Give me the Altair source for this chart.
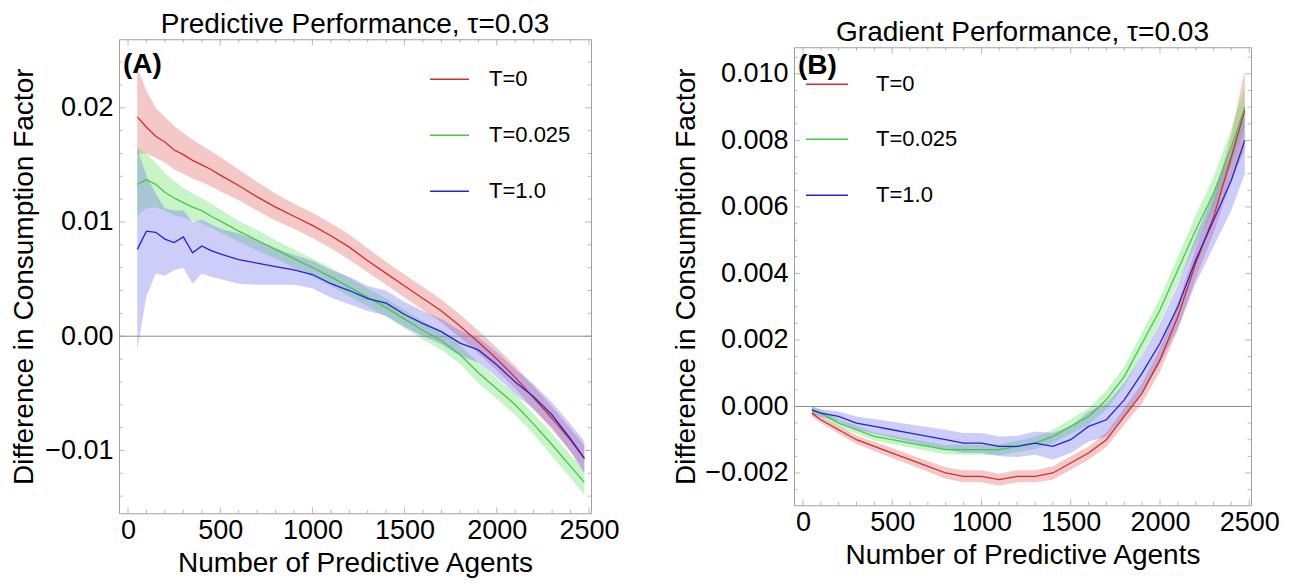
import altair as alt
import pandas as pd

FONT = "Liberation Sans"
SERIES = ["T=0", "T=0.025", "T=1.0"]
LINE_COLORS = ["#d42c2c", "#46c846", "#2424d2"]
BAND_COLORS = ["#de4848", "#48de48", "#5858ee"]

X_MAJOR = [0, 500, 1000, 1500, 2000, 2500]

# ---------------- Panel A: Predictive Performance ----------------
xa = [50, 100, 150, 200, 250, 300, 350, 400, 450, 500, 600, 700, 800, 900, 1000,
      1100, 1200, 1300, 1400, 1500, 1600, 1700, 1800, 1900, 2000, 2100, 2200, 2300, 2400, 2475]

red_a = [0.0192, 0.0183, 0.0175, 0.0170, 0.0163, 0.0159, 0.0154, 0.0150, 0.0146, 0.0141,
         0.0132, 0.0122, 0.0113, 0.0105, 0.0097, 0.0088, 0.0078, 0.0066, 0.0055, 0.0044,
         0.0033, 0.0022, 0.0009, -0.0005, -0.0020, -0.0036, -0.0054, -0.0072, -0.0091, -0.0107]
red_a_hi = [0.0235, 0.0215, 0.0200, 0.0192, 0.0184, 0.0178, 0.0172, 0.0167, 0.0162, 0.0157,
            0.0146, 0.0135, 0.0125, 0.0116, 0.0108, 0.0099, 0.0089, 0.0077, 0.0065, 0.0054,
            0.0043, 0.0032, 0.0019, 0.0005, -0.0010, -0.0026, -0.0044, -0.0062, -0.0081, -0.0096]
red_a_lo = [0.0160, 0.0160, 0.0156, 0.0152, 0.0146, 0.0142, 0.0138, 0.0135, 0.0131, 0.0127,
            0.0119, 0.0110, 0.0101, 0.0094, 0.0086, 0.0077, 0.0067, 0.0056, 0.0045, 0.0034,
            0.0023, 0.0012, -0.0001, -0.0015, -0.0030, -0.0046, -0.0064, -0.0082, -0.0101, -0.0118]

green_a = [0.0133, 0.0137, 0.0133, 0.0126, 0.0121, 0.0117, 0.0113, 0.0110, 0.0105, 0.0101,
           0.0092, 0.0084, 0.0076, 0.0068, 0.0060, 0.0052, 0.0043, 0.0034, 0.0025, 0.0015,
           0.0005, -0.0004, -0.0016, -0.0032, -0.0046, -0.0060, -0.0077, -0.0095, -0.0114, -0.0128]
green_a_hi = [0.0165, 0.0160, 0.0152, 0.0143, 0.0136, 0.0130, 0.0125, 0.0121, 0.0116, 0.0111,
              0.0101, 0.0093, 0.0084, 0.0076, 0.0068, 0.0060, 0.0051, 0.0042, 0.0033, 0.0023,
              0.0013, 0.0004, -0.0008, -0.0023, -0.0037, -0.0051, -0.0068, -0.0085, -0.0104, -0.0117]
green_a_lo = [0.0105, 0.0112, 0.0113, 0.0110, 0.0106, 0.0104, 0.0101, 0.0099, 0.0095, 0.0091,
              0.0083, 0.0075, 0.0068, 0.0060, 0.0052, 0.0044, 0.0035, 0.0026, 0.0017, 0.0007,
              -0.0003, -0.0012, -0.0024, -0.0041, -0.0055, -0.0069, -0.0086, -0.0105, -0.0124, -0.0139]

blue_a = [0.0076, 0.0092, 0.0091, 0.0085, 0.0082, 0.0087, 0.0073, 0.0079, 0.0075, 0.0072,
          0.0067, 0.0064, 0.0061, 0.0058, 0.0054, 0.0046, 0.0040, 0.0033, 0.0029, 0.0019,
          0.0011, 0.0004, -0.0006, -0.0012, -0.0025, -0.0040, -0.0053, -0.0069, -0.0090, -0.0107]
blue_a_hi = [0.0165, 0.0140, 0.0125, 0.0112, 0.0110, 0.0110, 0.0100, 0.0102, 0.0098, 0.0094,
             0.0090, 0.0084, 0.0077, 0.0071, 0.0066, 0.0058, 0.0052, 0.0044, 0.0040, 0.0030,
             0.0022, 0.0015, 0.0005, -0.0001, -0.0014, -0.0029, -0.0042, -0.0058, -0.0077, -0.0092]
blue_a_lo = [-0.0012, 0.0035, 0.0055, 0.0053, 0.0058, 0.0060, 0.0046, 0.0055, 0.0052, 0.0050,
             0.0046, 0.0045, 0.0045, 0.0045, 0.0042, 0.0034, 0.0028, 0.0022, 0.0018, 0.0008,
             0.0000, -0.0007, -0.0017, -0.0023, -0.0036, -0.0051, -0.0064, -0.0080, -0.0101, -0.0120]

# ---------------- Panel B: Gradient Performance ----------------
xb = [50, 100, 200, 300, 400, 500, 600, 700, 800, 900, 1000, 1100, 1200, 1300, 1400,
      1500, 1600, 1700, 1800, 1900, 2000, 2100, 2200, 2300, 2400, 2475]

red_b = [-0.0002, -0.0004, -0.0007, -0.0010, -0.0012, -0.0014, -0.0016, -0.0018, -0.0020, -0.0021,
         -0.0021, -0.0022, -0.0021, -0.0021, -0.0020, -0.0017, -0.0014, -0.0010, -0.0003, 0.0004,
         0.0014, 0.0027, 0.0043, 0.0057, 0.0075, 0.0089]
red_b_err = [0.0001, 0.0001, 0.00012, 0.00013, 0.00014, 0.00015, 0.00015, 0.00016, 0.00017, 0.00018,
             0.00018, 0.00018, 0.00018, 0.00018, 0.0002, 0.0002, 0.0002, 0.00022, 0.00025, 0.0003,
             0.00035, 0.0004, 0.00045, 0.0005, 0.0007, 0.0012]

green_b = [-0.0001, -0.0002, -0.0005, -0.0007, -0.0009, -0.0010, -0.0011, -0.0012, -0.0013, -0.0013,
           -0.0013, -0.0013, -0.0012, -0.0011, -0.0009, -0.0006, -0.0003, 0.0002, 0.0009, 0.0019,
           0.0029, 0.0041, 0.0053, 0.0064, 0.0078, 0.0090]
green_b_err = [0.0001, 0.0001, 0.00011, 0.00012, 0.00012, 0.00013, 0.00013, 0.00014, 0.00014, 0.00015,
               0.00015, 0.00016, 0.00017, 0.00018, 0.0002, 0.00022, 0.00025, 0.00028, 0.0003, 0.00033,
               0.00036, 0.0004, 0.00045, 0.0005, 0.00055, 0.0006]

blue_b = [-0.0001, -0.0002, -0.0003, -0.0005, -0.0006, -0.0007, -0.0008, -0.0009, -0.0010, -0.0011,
          -0.0011, -0.0012, -0.0012, -0.0011, -0.0012, -0.0010, -0.0006, -0.0004, 0.0002, 0.0010,
          0.0019, 0.0030, 0.0044, 0.0056, 0.0068, 0.0080]
blue_b_err = [0.0001, 0.00012, 0.00015, 0.0002, 0.00022, 0.00024, 0.00026, 0.00028, 0.0003, 0.0003,
              0.0003, 0.0003, 0.00032, 0.00035, 0.0004, 0.0004, 0.00045, 0.0005, 0.0005, 0.00055,
              0.0006, 0.00065, 0.0007, 0.0008, 0.0009, 0.0010]

YA_MAJOR = [-0.01, 0.0, 0.01, 0.02]
YB_MAJOR = [-0.002, 0.0, 0.002, 0.004, 0.006, 0.008, 0.010]
X_MINOR = [v for v in range(0, 2501, 100) if v % 500 != 0]
YA_MINOR = [round(-0.014 + 0.002 * i, 4) for i in range(20) if round(-0.014 + 0.002 * i, 4) not in YA_MAJOR]
YB_MINOR = [round(-0.0025 + 0.0005 * i, 4) for i in range(27) if round(-0.0025 + 0.0005 * i, 4) not in YB_MAJOR]


def long_table(xs, means, los, his):
    rows = []
    for name, m, lo, hi in zip(SERIES, means, los, his):
        for i, x in enumerate(xs):
            rows.append(dict(x=x, series=name, band=name, y=m[i], lo=lo[i], hi=hi[i]))
    return pd.DataFrame(rows)


df_a = long_table(xa, [red_a, green_a, blue_a], [red_a_lo, green_a_lo, blue_a_lo],
                  [red_a_hi, green_a_hi, blue_a_hi])
df_b = long_table(
    xb, [red_b, green_b, blue_b],
    [[m - e for m, e in zip(red_b, red_b_err)], [m - e for m, e in zip(green_b, green_b_err)],
     [m - e for m, e in zip(blue_b, blue_b_err)]],
    [[m + e for m, e in zip(red_b, red_b_err)], [m + e for m, e in zip(green_b, green_b_err)],
     [m + e for m, e in zip(blue_b, blue_b_err)]],
)


def panel(df, title, xdom, ydom, ymajor, yminor, yfmt, W, H, tag, tag_y,
          key_x1, key_x2, key_text_x, key_rows, ytitle_pad):
    xscale = alt.Scale(domain=xdom, nice=False, zero=False)
    yscale = alt.Scale(domain=ydom, nice=False, zero=False)
    xaxis = alt.Axis(values=X_MAJOR, format="d", title="Number of Predictive Agents",
                     labelFlush=False, labelOverlap=False, labelPadding=4, titlePadding=6)
    yaxis = alt.Axis(values=ymajor, format=yfmt, title="Difference in Consumption Factor",
                     labelFlush=False, labelOverlap=False, labelPadding=6, titlePadding=ytitle_pad)

    def X(f):
        return alt.X(f"{f}:Q", scale=xscale, axis=xaxis)

    def Y(f):
        return alt.Y(f"{f}:Q", scale=yscale, axis=yaxis)

    band = alt.Chart(df).mark_area(opacity=0.3).encode(
        x=X("x"), y=Y("lo"), y2="hi:Q",
        fill=alt.Fill("band:N", scale=alt.Scale(domain=SERIES, range=BAND_COLORS), legend=None),
    )
    zero = alt.Chart(pd.DataFrame({"y": [0.0]})).mark_rule(color="#8a8a8a", strokeWidth=1).encode(y=Y("y"))
    line = alt.Chart(df).mark_line(strokeWidth=1.3).encode(
        x=X("x"), y=Y("y"),
        stroke=alt.Stroke("series:N", scale=alt.Scale(domain=SERIES, range=LINE_COLORS), legend=None),
    )
    layers = [band, zero, line]
    tick_color = "#9a9a9a"
    for vals, size in ((X_MAJOR, 6), (X_MINOR, 3.5)):
        tdf = pd.DataFrame({"x": vals})
        layers.append(alt.Chart(tdf).mark_tick(orient="vertical", size=size, thickness=1, color=tick_color)
                      .encode(x=X("x"), y=alt.value(H - size / 2)))
        layers.append(alt.Chart(tdf).mark_tick(orient="vertical", size=size, thickness=1, color=tick_color)
                      .encode(x=X("x"), y=alt.value(size / 2)))
    for vals, size in ((ymajor, 6), (yminor, 3.5)):
        tdf = pd.DataFrame({"y": vals})
        layers.append(alt.Chart(tdf).mark_tick(orient="horizontal", size=size, thickness=1, color=tick_color)
                      .encode(y=Y("y"), x=alt.value(size / 2)))
        layers.append(alt.Chart(tdf).mark_tick(orient="horizontal", size=size, thickness=1, color=tick_color)
                      .encode(y=Y("y"), x=alt.value(W - size / 2)))
    # legend keys (drawn inside the plot area as in the original)
    for name, col, ry in zip(SERIES, LINE_COLORS, key_rows):
        kdf = pd.DataFrame({"series": [name]})
        layers.append(alt.Chart(kdf).mark_rule(color=col, strokeWidth=1.3).encode(
            x=alt.value(key_x1), x2=alt.value(key_x2), y=alt.value(ry)))
        layers.append(alt.Chart(kdf).mark_text(
            font=FONT, fontSize=22, align="left", baseline="middle", color="black"
        ).encode(text="series:N", x=alt.value(key_text_x), y=alt.value(ry)))
    label = alt.Chart(pd.DataFrame({"t": [tag]})).mark_text(
        font=FONT, fontSize=28, fontWeight="bold", align="left", baseline="middle", color="black"
    ).encode(text="t:N", x=alt.value(4), y=alt.value(tag_y))
    layers.append(label)
    return alt.layer(*layers).properties(
        width=W, height=H,
        title=alt.TitleParams(title, font=FONT, fontSize=28, fontWeight="normal", color="black",
                              anchor="middle", offset=0),
    )


left = panel(df_a, "Predictive Performance, τ=0.03", [-49, 2511], [-0.0155, 0.026],
             YA_MAJOR, YA_MINOR, ".2f", 472, 474, "(A)", 26, 311, 350, 370, [40, 96, 152], 6)
right = panel(df_b, "Gradient Performance, τ=0.03", [-50, 2510], [-0.00297, 0.0108],
              YB_MAJOR, YB_MINOR, ".3f", 457, 458, "(B)", 19, 12, 54, 82, [37, 92, 148], 4)

chart = alt.hconcat(left, right, spacing=52, center=True,
                    padding={"left": 2, "top": 2, "right": 5, "bottom": 0}).resolve_scale(
    x="independent", y="independent", stroke="independent", fill="independent"
).configure(font=FONT).configure_view(
    stroke="#a0a0a0", strokeWidth=1
).configure_axis(
    labelFontSize=27, titleFontSize=28, labelFont=FONT, titleFont=FONT, labelColor="black",
    titleColor="black", titleFontWeight="normal", ticks=False, domain=False, grid=False
)

chart.save("out.html", embed_options={"renderer": "svg", "actions": False})
